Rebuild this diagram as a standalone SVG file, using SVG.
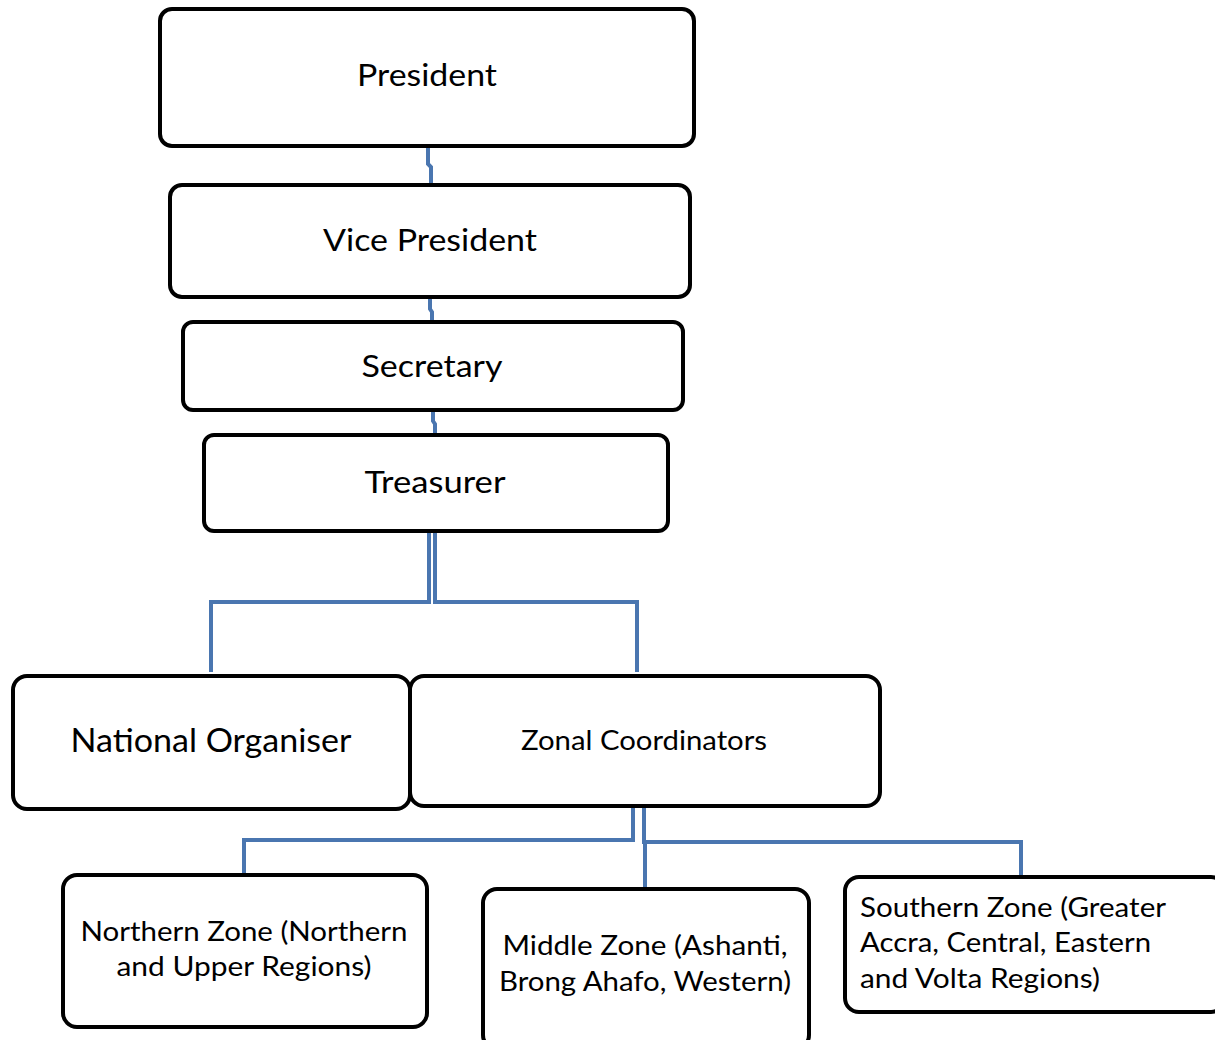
<svg xmlns="http://www.w3.org/2000/svg" width="1215" height="1040" viewBox="0 0 1215 1040">
  <style>
    .box { fill: #ffffff; stroke: #000000; stroke-width: 4; }
    .lbl { font-family: Lato, "Noto Sans", "Liberation Sans", sans-serif; fill: #000000; }
    .big { font-size: 30px; }
    .mid { font-size: 26px; }
    .conn { fill: none; stroke: #4a76b0; stroke-width: 4; stroke-linejoin: miter; }
  </style>
  <rect width="1215" height="1040" fill="#ffffff"/>

  <g id="connectors">
    <path class="conn" d="M428,146 V164 L431,167 V185"/>
    <path class="conn" d="M430,297 V309 L432,312 V322"/>
    <path class="conn" d="M433,410 V421 L435,424 V435"/>
    <path class="conn" d="M429,531 V602 H211 V672"/>
    <path class="conn" d="M435,531 V602 H637 V672"/>
    <path class="conn" d="M633,806 V840 H244 V873"/>
    <path class="conn" d="M644,806 V842 H1021 V876"/>
    <path class="conn" d="M645,842 V888"/>
  </g>

  <g id="president">
    <rect class="box" x="160" y="9" width="534" height="137" rx="12"/>
    <text class="lbl big" x="427" y="86" text-anchor="middle" textLength="140" lengthAdjust="spacingAndGlyphs">President</text>
  </g>
  <g id="vice-president">
    <rect class="box" x="170" y="185" width="520" height="112" rx="12"/>
    <text class="lbl big" x="430" y="251" text-anchor="middle" textLength="214" lengthAdjust="spacingAndGlyphs">Vice President</text>
  </g>
  <g id="secretary">
    <rect class="box" x="183" y="322" width="500" height="88" rx="10"/>
    <text class="lbl big" x="432" y="377" text-anchor="middle" textLength="141" lengthAdjust="spacingAndGlyphs">Secretary</text>
  </g>
  <g id="treasurer">
    <rect class="box" x="204" y="435" width="464" height="96" rx="10"/>
    <text class="lbl big" x="435" y="493" text-anchor="middle" textLength="141" lengthAdjust="spacingAndGlyphs">Treasurer</text>
  </g>
  <g id="national-organiser">
    <rect class="box" x="13" y="676" width="397" height="133" rx="14"/>
    <text class="lbl" font-size="32" x="211" y="752" text-anchor="middle" textLength="281" lengthAdjust="spacingAndGlyphs">National Organiser</text>
  </g>
  <g id="zonal-coordinators">
    <rect class="box" x="410" y="676" width="470" height="130" rx="14"/>
    <text class="lbl mid" x="644" y="750" text-anchor="middle" textLength="246" lengthAdjust="spacingAndGlyphs">Zonal Coordinators</text>
  </g>
  <g id="northern-zone">
    <rect class="box" x="63" y="875" width="364" height="152" rx="14"/>
    <text class="lbl mid" x="244" y="941" text-anchor="middle" textLength="327" lengthAdjust="spacingAndGlyphs">Northern Zone (Northern</text>
    <text class="lbl mid" x="244" y="976" text-anchor="middle" textLength="255" lengthAdjust="spacingAndGlyphs">and Upper Regions)</text>
  </g>
  <g id="middle-zone">
    <rect class="box" x="483" y="889" width="326" height="160" rx="14"/>
    <text class="lbl mid" x="645" y="955" text-anchor="middle" textLength="285" lengthAdjust="spacingAndGlyphs">Middle Zone (Ashanti,</text>
    <text class="lbl mid" x="645" y="991" text-anchor="middle" textLength="292" lengthAdjust="spacingAndGlyphs">Brong Ahafo, Western)</text>
  </g>
  <g id="southern-zone">
    <rect class="box" x="845" y="877" width="380" height="135" rx="14"/>
    <text class="lbl mid" x="860" y="917" textLength="306" lengthAdjust="spacingAndGlyphs">Southern Zone (Greater</text>
    <text class="lbl mid" x="860" y="952" textLength="291" lengthAdjust="spacingAndGlyphs">Accra, Central, Eastern</text>
    <text class="lbl mid" x="860" y="988" textLength="240" lengthAdjust="spacingAndGlyphs">and Volta Regions)</text>
  </g>
</svg>
